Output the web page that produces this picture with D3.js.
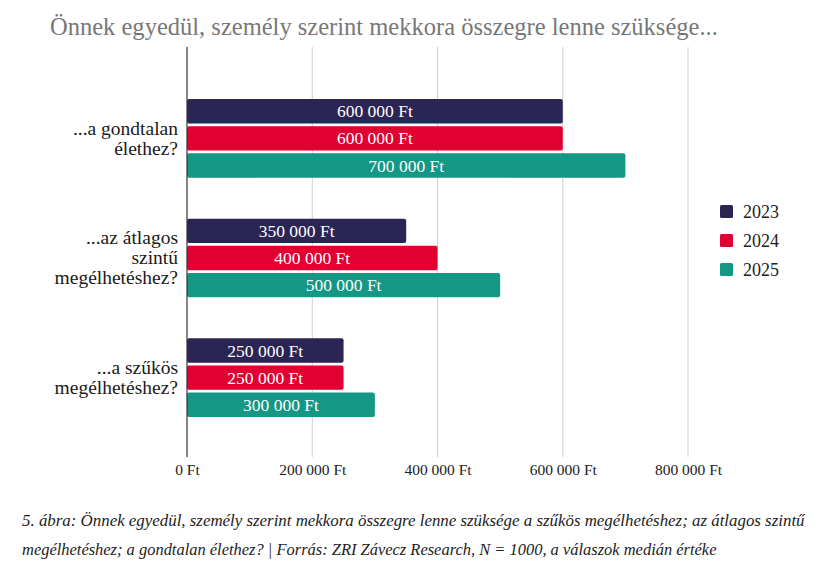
<!DOCTYPE html>
<html>
<head>
<meta charset="utf-8">
<script src="https://cdn.jsdelivr.net/npm/d3@7"></script>
<style>
  body { margin: 0; background: #fff; }
  svg text { font-family: "Liberation Serif", "DejaVu Serif", serif !important; }
</style>
</head>
<body>
<svg id="chart" width="836" height="567"></svg>
<script>
// data
const categories = [
    ["...a gondtalan", "élethez?"],
    ["...az átlagos", "szintű", "megélhetéshez?"],
    ["...a szűkös", "megélhetéshez?"]
];
const years = ["2023", "2024", "2025"];
const values2023 = [600000, 350000, 250000];
const values2024 = [600000, 400000, 250000];
const values2025 = [700000, 500000, 300000];
const xTicks = [0, 200000, 400000, 600000, 800000];
const colors = ["#2b2553", "#e00032", "#159785"];

const series = [values2023, values2024, values2025];

const svg = d3.select("#chart");

const fmt = v => d3.format(",")(v).replace(/,/g, " ") + " Ft";

// stretch a text to a given width
function fit(sel, w) {
    const len = sel.node().getComputedTextLength();
    const fs = parseFloat(sel.attr("font-size"));
    sel.attr("font-size", fs * w / len);
}

const x = d3.scaleLinear()
    .domain([0, 800000])
    .range([187, 688]);

const y = d3.scaleBand()
    .domain(d3.range(categories.length))
    .range([76, 435]);

const yInner = d3.scaleBand()
    .domain(years)
    .range([23, y.bandwidth() - 18])
    .paddingInner(0.1);

// title
svg.append("text")
    .attr("x", 50)
    .attr("y", 35)
    .attr("fill", "#777")
    .attr("font-size", 24)
    .text("Önnek egyedül, személy szerint mekkora összegre lenne szüksége...")
    .call(fit, 668);

// grid
svg.append("g")
    .selectAll("line")
    .data(xTicks.slice(1))
    .enter().append("line")
    .attr("x1", d => x(d)).attr("x2", d => x(d))
    .attr("y1", 47).attr("y2", 457)
    .attr("stroke", "#d0d0d0")
    .attr("stroke-width", 1);

// x axis
const xAxis = svg.append("g")
    .attr("transform", "translate(0,457)")
    .call(d3.axisBottom(x).tickValues(xTicks).tickFormat(fmt).tickSize(0).tickPadding(7));
xAxis.select(".domain").remove();
xAxis.selectAll("text")
    .attr("font-size", 15.5)
    .attr("fill", "#222");

// bars
const groups = svg.append("g")
    .selectAll("g")
    .data(categories)
    .enter().append("g")
    .attr("transform", (d, i) => "translate(0," + y(i) + ")");

groups.selectAll("rect")
    .data((d, i) => years.map((yr, j) => ({ yr: yr, v: series[j][i], c: colors[j] })))
    .enter().append("rect")
    .attr("x", x(0))
    .attr("y", d => yInner(d.yr))
    .attr("width", d => x(d.v) - x(0))
    .attr("height", yInner.bandwidth())
    .attr("rx", 2)
    .attr("fill", d => d.c);

groups.selectAll("text.val")
    .data((d, i) => years.map((yr, j) => ({ yr: yr, v: series[j][i] })))
    .enter().append("text")
    .attr("class", "val")
    .attr("x", d => (x(0) + x(d.v)) / 2)
    .attr("y", d => yInner(d.yr) + yInner.bandwidth() / 2)
    .attr("dy", "0.35em")
    .attr("text-anchor", "middle")
    .attr("fill", "#fff")
    .attr("font-size", 17.5)
    .text(d => fmt(d.v));

// category labels, one text per line
groups.each(function (d) {
    const g = d3.select(this);
    const lh = 20;
    const c = y.bandwidth() / 2 + 2 - (d.length - 1) * lh / 2;
    d.forEach((line, k) => {
        g.append("text")
            .attr("x", 178)
            .attr("y", c + k * lh)
            .attr("dy", "0.35em")
            .attr("text-anchor", "end")
            .attr("fill", "#1a1a1a")
            .attr("font-size", 19.5)
            .text(line);
    });
});

// y axis line
svg.append("line")
    .attr("x1", x(0)).attr("x2", x(0))
    .attr("y1", 47).attr("y2", 457)
    .attr("stroke", "#333")
    .attr("stroke-width", 1.2);

// legend
const legend = svg.append("g")
    .selectAll("g")
    .data(years)
    .enter().append("g")
    .attr("transform", (d, i) => "translate(720," + (205 + i * 29) + ")");
legend.append("rect")
    .attr("width", 13).attr("height", 13)
    .attr("rx", 1.5)
    .attr("fill", (d, i) => colors[i]);
legend.append("text")
    .attr("x", 23)
    .attr("y", 7)
    .attr("dy", "0.35em")
    .attr("fill", "#222")
    .attr("font-size", 18)
    .text(d => d);

// caption
svg.append("text")
    .attr("x", 22).attr("y", 526)
    .attr("font-style", "italic")
    .attr("fill", "#222")
    .attr("font-size", 15)
    .text("5. ábra: Önnek egyedül, személy szerint mekkora összegre lenne szüksége a szűkös megélhetéshez; az átlagos szintű")
    .call(fit, 783);
svg.append("text")
    .attr("x", 22).attr("y", 555)
    .attr("font-style", "italic")
    .attr("fill", "#222")
    .attr("font-size", 15)
    .text("megélhetéshez; a gondtalan élethez?  | Forrás: ZRI Závecz Research, N = 1000, a válaszok medián értéke")
    .call(fit, 695);
</script>
</body>
</html>
